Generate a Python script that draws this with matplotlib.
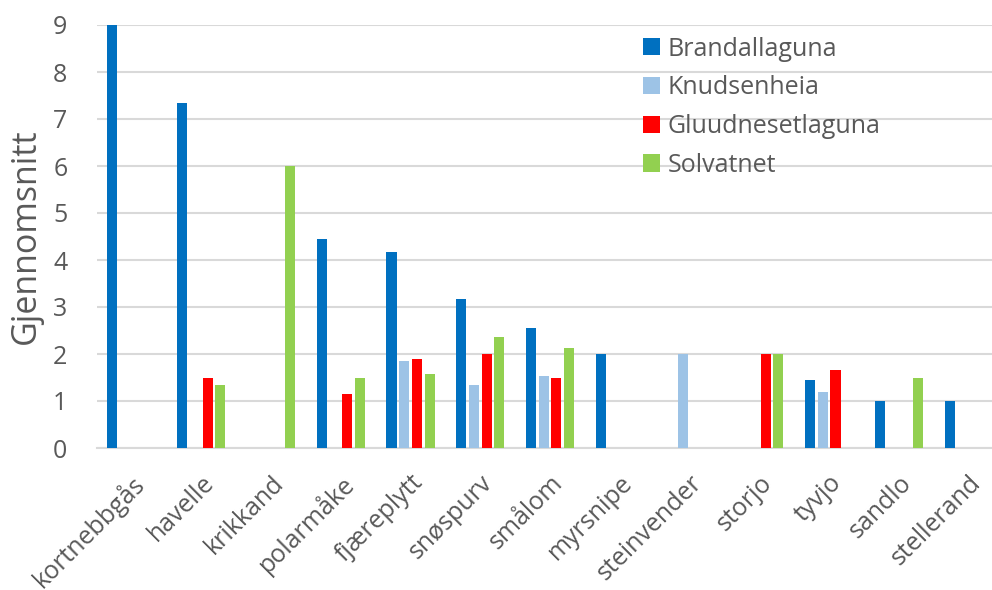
import numpy as np
import matplotlib.pyplot as plt

categories = ["kortnebbgås", "havelle", "krikkand", "polarmåke", "fjæreplytt",
              "snøspurv", "smålom", "myrsnipe", "steinvender", "storjo",
              "tyvjo", "sandlo", "stellerand"]
brandallaguna = [9, 7.33, 0, 4.44, 4.17, 3.17, 2.56, 2, 0, 0, 1.44, 1, 1]
knudsenheia = [0, 0, 0, 0, 1.86, 1.33, 1.54, 0, 2, 0, 1.2, 0, 0]
gluudnesetlaguna = [0, 1.5, 0, 1.14, 1.9, 2, 1.5, 0, 0, 2, 1.67, 0, 0]
solvatnet = [0, 1.33, 6, 1.5, 1.57, 2.36, 2.12, 0, 0, 2, 0, 1.5, 0]

series = [("Brandallaguna", brandallaguna, "#0070C0"),
          ("Knudsenheia", knudsenheia, "#9DC3E6"),
          ("Gluudnesetlaguna", gluudnesetlaguna, "#FF0000"),
          ("Solvatnet", solvatnet, "#92D050")]

plt.rcParams['font.family'] = ['Open Sans', 'DejaVu Sans']
text_col = "#595959"

fig = plt.figure(figsize=(9.92, 5.90), dpi=100)
ax = fig.add_axes([96.6 / 992, 1 - 448 / 590, (992 - 96.6) / 992, (448 - 25) / 590])

x = np.arange(len(categories))
step = 0.182
for i, (name, vals, col) in enumerate(series):
    ax.bar(x + (i - 1.5) * step, vals, width=0.145, color=col, label=name, zorder=3)

ax.set_ylim(0, 9)
ax.set_xlim(-0.5, 12.334)
ax.set_yticks(range(10))
ax.yaxis.grid(True, color="#D9D9D9", linewidth=1.5, zorder=0)
for s in ["top", "right", "left"]:
    ax.spines[s].set_visible(False)
ax.spines["bottom"].set_color("#D9D9D9")
ax.spines["bottom"].set_linewidth(1.5)
ax.tick_params(axis="both", length=0, labelsize=18, colors=text_col)
ax.tick_params(axis="y", pad=21)
ax.set_xticks(x)
ax.set_xticklabels(categories, rotation=45, ha="right", rotation_mode="anchor")
ax.tick_params(axis="x", pad=16)
ax.set_ylabel("Gjennomsnitt", fontsize=24.5, color=text_col, labelpad=7)

leg = ax.legend(loc="upper left", bbox_to_anchor=(0.585, 1.026), frameon=False,
                fontsize=18, handlelength=0.68, handleheight=0.68,
                handletextpad=0.3, labelspacing=0.55, labelcolor=text_col)

fig.savefig("out.png", dpi=100)
